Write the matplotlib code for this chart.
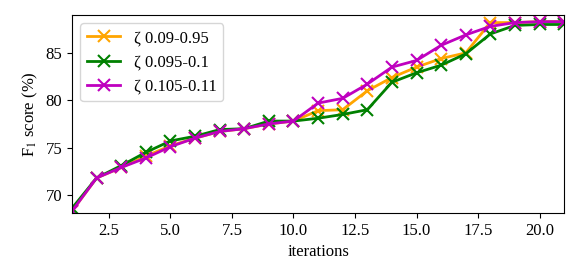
import matplotlib.pyplot as plt
import numpy as np

plt.rcParams["font.family"] = ["Liberation Serif", "DejaVu Serif"]
plt.rcParams["mathtext.fontset"] = "stix"

iterations = np.arange(1, 22)

labels = ["ζ 0.09-0.95", "ζ 0.095-0.1", "ζ 0.105-0.11"]
colors = ["orange", "green", "m"]

f1_a = [68.3, 71.8, 72.9, 74.1, 75.2, 76.0, 76.7, 77.0, 77.5, 77.8,
        78.9, 79.0, 81.0, 82.4, 83.5, 84.4, 85.0, 88.2, 88.2, 88.3, 88.3]
f1_b = [68.6, 71.8, 73.1, 74.5, 75.7, 76.2, 76.9, 77.0, 77.8, 77.8,
        78.1, 78.5, 79.0, 81.9, 82.9, 83.7, 84.9, 87.0, 87.9, 88.0, 88.0]
f1_c = [68.3, 71.8, 72.9, 73.9, 75.1, 76.0, 76.7, 77.0, 77.5, 77.8,
        79.7, 80.2, 81.7, 83.5, 84.2, 85.8, 86.9, 87.8, 88.2, 88.3, 88.3]

fig = plt.figure(figsize=(5.81, 2.73), dpi=100)
ax = fig.add_axes([0.124, 0.22, 0.847, 0.725])

for values, label, color in zip([f1_a, f1_b, f1_c], labels, colors):
    ax.plot(iterations, values, marker="x", color=color, label=label,
            linewidth=2, markersize=8, markeredgewidth=1.5)

ax.set_xlim(1, 21)
ax.set_ylim(68.1, 89)
ax.set_yticks([70, 75, 80, 85])
ax.set_xlabel("iterations", fontsize=12)
ax.set_ylabel("F$_1$ score (%)", fontsize=12)
ax.tick_params(labelsize=12)
ax.legend(loc="upper left", fontsize=12)

fig.savefig("out.png", dpi=100)
